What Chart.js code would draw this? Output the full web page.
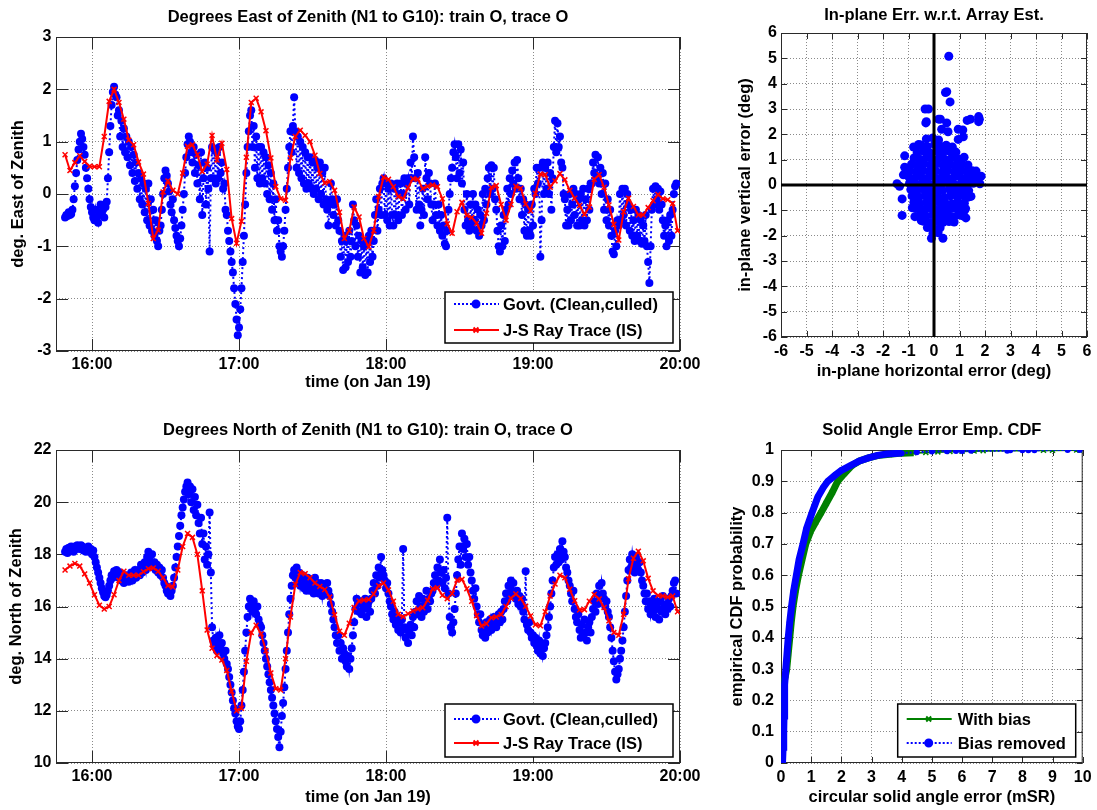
<!DOCTYPE html>
<html>
<head>
<meta charset="utf-8">
<title>Zenith angle: Govt. vs J-S ray trace</title>
<script src="https://cdn.jsdelivr.net/npm/chart.js@4.4.1/dist/chart.umd.min.js"></script>
<style>
    html, body { margin: 0; padding: 0; background: #fff; }
    #fig { position: relative; width: 1097px; height: 810px; overflow: hidden; background: #fff; }
    #fig canvas { position: absolute; }
</style>
</head>
<body>
<div id="fig">
    <canvas id="eastChart" width="710" height="395" style="left:0;top:0"></canvas>
    <canvas id="northChart" width="710" height="410" style="left:0;top:400px"></canvas>
    <canvas id="planeChart" width="397" height="382" style="left:700px;top:0"></canvas>
    <canvas id="cdfChart" width="397" height="410" style="left:700px;top:400px"></canvas>
</div>
<script>
// ---- data (times are minutes after midnight, Jan 19) ----
var hourTicks = [960, 1020, 1080, 1140, 1200];

// Govt. (clean, culled), one sample every 30 s
var govtMinutes = [
    949,949.5,950,950.5,951,951.5,952,952.5,953,953.5,954,954.5,955,955.5,956,956.5,957,957.5,958,958.5,
    959,959.5,960,960.5,961,961.5,962,962.5,963,963.5,964,964.5,965,965.5,966,966.5,967,967.5,968,968.5,
    969,969.5,970,970.5,971,971.5,972,972.5,973,973.5,974,974.5,975,975.5,976,976.5,977,977.5,978,978.5,
    979,979.5,980,980.5,981,981.5,982,982.5,983,983.5,984,984.5,985,985.5,986,986.5,987,987.5,988,988.5,
    989,989.5,990,990.5,991,991.5,992,992.5,993,993.5,994,994.5,995,995.5,996,996.5,997,997.5,998,998.5,
    999,999.5,1000,1000.5,1001,1001.5,1002,1002.5,1003,1003.5,1004,1004.5,1005,1005.5,1006,1006.5,1007,1007.5,1008,1008.5,
    1009,1009.5,1010,1010.5,1011,1011.5,1012,1012.5,1013,1013.5,1014,1014.5,1015,1015.5,1016,1016.5,1017,1017.5,1018,1018.5,
    1019,1019.5,1020,1020.5,1021,1021.5,1022,1022.5,1023,1023.5,1024,1024.5,1025,1025.5,1026,1026.5,1027,1027.5,1028,1028.5,
    1029,1029.5,1030,1030.5,1031,1031.5,1032,1032.5,1033,1033.5,1034,1034.5,1035,1035.5,1036,1036.5,1037,1037.5,1038,1038.5,
    1039,1039.5,1040,1040.5,1041,1041.5,1042,1042.5,1043,1043.5,1044,1044.5,1045,1045.5,1046,1046.5,1047,1047.5,1048,1048.5,
    1049,1049.5,1050,1050.5,1051,1051.5,1052,1052.5,1053,1053.5,1054,1054.5,1055,1055.5,1056,1056.5,1057,1057.5,1058,1058.5,
    1059,1059.5,1060,1060.5,1061,1061.5,1062,1062.5,1063,1063.5,1064,1064.5,1065,1065.5,1066,1066.5,1067,1067.5,1068,1068.5,
    1069,1069.5,1070,1070.5,1071,1071.5,1072,1072.5,1073,1073.5,1074,1074.5,1075,1075.5,1076,1076.5,1077,1077.5,1078,1078.5,
    1079,1079.5,1080,1080.5,1081,1081.5,1082,1082.5,1083,1083.5,1084,1084.5,1085,1085.5,1086,1086.5,1087,1087.5,1088,1088.5,
    1089,1089.5,1090,1090.5,1091,1091.5,1092,1092.5,1093,1093.5,1094,1094.5,1095,1095.5,1096,1096.5,1097,1097.5,1098,1098.5,
    1099,1099.5,1100,1100.5,1101,1101.5,1102,1102.5,1103,1103.5,1104,1104.5,1105,1105.5,1106,1106.5,1107,1107.5,1108,1108.5,
    1109,1109.5,1110,1110.5,1111,1111.5,1112,1112.5,1113,1113.5,1114,1114.5,1115,1115.5,1116,1116.5,1117,1117.5,1118,1118.5,
    1119,1119.5,1120,1120.5,1121,1121.5,1122,1122.5,1123,1123.5,1124,1124.5,1125,1125.5,1126,1126.5,1127,1127.5,1128,1128.5,
    1129,1129.5,1130,1130.5,1131,1131.5,1132,1132.5,1133,1133.5,1134,1134.5,1135,1135.5,1136,1136.5,1137,1137.5,1138,1138.5,
    1139,1139.5,1140,1140.5,1141,1141.5,1142,1142.5,1143,1143.5,1144,1144.5,1145,1145.5,1146,1146.5,1147,1147.5,1148,1148.5,
    1149,1149.5,1150,1150.5,1151,1151.5,1152,1152.5,1153,1153.5,1154,1154.5,1155,1155.5,1156,1156.5,1157,1157.5,1158,1158.5,
    1159,1159.5,1160,1160.5,1161,1161.5,1162,1162.5,1163,1163.5,1164,1164.5,1165,1165.5,1166,1166.5,1167,1167.5,1168,1168.5,
    1169,1169.5,1170,1170.5,1171,1171.5,1172,1172.5,1173,1173.5,1174,1174.5,1175,1175.5,1176,1176.5,1177,1177.5,1178,1178.5,
    1179,1179.5,1180,1180.5,1181,1181.5,1182,1182.5,1183,1183.5,1184,1184.5,1185,1185.5,1186,1186.5,1187,1187.5,1188,1188.5,
    1189,1189.5,1190,1190.5,1191,1191.5,1192,1192.5,1193,1193.5,1194,1194.5,1195,1195.5,1196,1196.5,1197,1197.5,1198,1198.5
];

var govtEastDeg = [
    -0.45,-0.4,-0.42,-0.35,-0.4,-0.38,-0.3,-0.1,0.15,0.4,0.65,0.85,1.0,1.15,1.05,0.9,0.75,0.5,0.3,0.1,
    -0.1,-0.25,-0.35,-0.45,-0.5,-0.3,-0.45,-0.55,-0.35,-0.2,-0.4,-0.3,-0.45,-0.25,-0.15,0.3,0.8,1.3,1.7,1.95,
    2.05,1.9,1.85,1.5,1.6,1.1,1.4,0.9,1.25,0.8,1.1,0.7,1.0,0.55,0.9,0.4,0.75,0.25,0.6,0.1,
    0.4,-0.1,0.3,-0.2,0.2,-0.35,0.1,-0.5,0.2,-0.6,-0.1,-0.7,-0.3,-0.8,-0.5,-0.9,-1.0,-0.7,-0.6,-0.3,
    0.0,0.3,0.45,0.35,0.2,0.05,-0.2,-0.35,-0.1,-0.5,-0.65,-0.8,-0.9,-1.0,-0.85,-0.6,-0.3,0.0,0.4,0.7,
    0.95,1.1,1.0,0.8,0.6,0.9,0.4,0.75,0.2,0.55,-0.1,0.8,-0.4,0.3,0.6,-0.2,0.5,0.1,-1.1,0.3,
    0.9,0.3,0.85,0.2,0.8,0.3,0.9,0.4,0.6,0.1,0.2,-0.3,-0.4,-0.7,-0.9,-1.1,-1.3,-1.5,-1.8,-2.1,
    -2.4,-2.7,-2.55,-2.2,-1.8,-1.3,-0.8,-0.2,0.4,0.9,1.2,1.5,1.6,0.9,1.3,0.5,1.1,0.3,0.9,0.2,
    0.9,0.3,0.8,0.2,0.7,0.0,0.55,-0.1,0.4,-0.3,0.2,-0.5,-0.1,-0.7,-0.5,-1.0,-1.1,-1.2,-1.0,-0.7,
    -0.3,0.1,0.5,0.9,1.2,0.8,1.3,1.85,1.2,0.5,1.1,0.4,1.0,0.3,0.9,0.2,0.8,0.1,0.7,0.2,
    0.7,0.1,0.6,0.0,0.65,0.1,0.5,-0.1,0.6,0.0,0.4,-0.2,0.5,-0.1,-0.3,-0.6,-0.2,0.2,-0.1,-0.4,
    -0.2,-0.6,-0.1,-0.5,-0.7,-1.2,-0.9,-1.45,-0.8,-1.4,-0.9,-1.3,-0.7,-1.2,-0.9,-0.2,-0.5,-1.0,-0.6,-1.2,
    -0.8,-1.5,-0.9,-1.4,-1.0,-1.55,-0.9,-1.5,-0.8,-1.3,-0.7,-1.2,-0.9,-0.4,-0.1,-0.7,-0.3,0.1,-0.4,0.2,
    0.3,-0.4,0.2,-0.5,0.1,-0.6,0.2,-0.4,-0.6,0.1,-0.4,0.2,-0.5,0.0,0.2,-0.4,0.0,0.3,-0.3,0.2,
    0.3,-0.2,0.6,0.3,1.1,0.7,0.3,-0.3,0.4,-0.2,-0.6,-0.3,0.1,-0.4,0.7,0.3,-0.1,0.4,0.2,-0.2,
    -0.5,-0.2,0.2,-0.4,-0.6,-0.2,-0.7,-0.4,-0.8,-0.6,-0.95,-1.0,-0.7,-0.3,0.0,0.3,0.5,0.8,0.95,0.7,
    0.3,0.95,0.4,0.85,0.2,0.6,-0.3,-0.6,0.0,-0.5,-0.7,-0.2,-0.6,0.0,-0.5,-0.2,-0.7,-0.3,-0.8,-0.4,
    -0.6,0.0,-0.5,0.1,-0.2,0.3,0.5,0.0,0.55,0.1,0.5,-0.1,-0.3,-0.7,-1.0,-1.1,-0.6,-1.0,-0.4,-0.9,
    -0.3,0.1,-0.2,0.3,0.0,0.45,0.2,0.6,0.1,0.65,0.3,-0.1,0.1,-0.4,-0.1,-0.7,-0.2,-0.8,-0.3,-0.7,
    -0.8,-0.2,-0.6,0.1,0.0,0.5,0.2,0.5,-1.2,-0.5,0.6,0.0,0.5,0.1,0.6,0.0,0.4,-0.3,0.3,0.9,
    1.4,0.8,1.35,0.9,1.1,0.6,0.5,0.0,-0.1,-0.6,-0.3,-0.6,0.0,-0.5,-0.2,0.1,-0.4,0.0,-0.6,-0.1,
    -0.6,0.0,-0.5,0.1,-0.6,-0.1,-0.5,0.1,-0.3,0.2,0.2,0.6,0.4,0.75,0.3,0.7,0.2,0.5,0.0,0.4,
    -0.3,0.2,-0.5,-0.1,-0.6,-0.3,-0.8,-1.1,-1.15,-0.7,-1.0,-0.5,-0.6,0.0,-0.5,0.1,-0.4,0.1,-0.6,0.0,
    -0.2,-0.7,-0.3,-0.8,-0.5,-0.9,-0.3,-0.8,-0.4,-0.9,-0.5,-0.95,-0.6,-0.9,-0.4,-1.0,-1.3,-1.7,-1.0,-0.3,
    0.1,-0.2,0.15,-0.1,0.1,-0.3,0.05,-0.2,-0.5,-0.8,-0.6,-1.0,-0.5,-0.9,-0.4,-0.8,-0.3,0.0,0.15,0.2
];

var govtNorthDeg = [
    18.1,18.2,18.05,18.25,18.15,18.3,18.2,18.1,18.3,18.2,18.35,18.25,18.2,18.35,18.3,18.15,18.25,18.1,18.2,18.3,
    18.1,18.2,18.0,18.15,17.9,17.7,17.5,17.3,17.1,16.9,16.7,16.55,16.4,16.35,16.45,16.6,16.8,17.0,17.2,17.1,
    17.35,17.2,17.4,17.25,17.1,17.3,17.0,17.2,16.9,17.1,17.2,17.0,16.95,17.15,17.3,17.0,17.2,17.4,17.1,17.3,
    17.4,17.2,17.6,17.3,17.5,17.7,17.4,17.9,18.1,17.8,17.6,18.0,17.5,17.7,17.4,17.6,17.3,17.5,17.2,17.4,
    17.1,16.9,16.8,16.6,16.5,16.7,16.4,16.6,16.8,17.1,17.5,17.9,18.3,18.7,19.1,19.5,19.8,20.1,20.4,20.6,
    20.75,20.3,20.6,20.0,20.5,19.7,20.2,19.5,19.9,19.2,18.8,19.4,18.4,18.8,17.8,18.3,17.6,18.0,19.6,17.3,
    15.2,14.7,14.5,14.8,14.3,14.6,14.9,14.4,14.6,14.2,14.0,14.3,13.8,13.6,13.3,13.0,12.7,12.4,12.1,11.9,
    11.6,11.4,11.3,11.6,12.2,12.8,13.5,14.3,15.0,15.6,16.0,16.3,16.1,15.8,16.2,15.9,15.7,16.0,15.5,15.3,
    15.2,14.9,14.6,14.3,14.0,13.7,13.4,13.1,12.8,12.5,12.2,11.9,11.6,11.3,11.0,10.6,11.2,11.8,12.3,12.9,
    13.6,14.3,15.0,15.7,16.3,16.8,17.2,17.4,17.1,17.5,16.9,17.3,16.8,17.1,17.2,16.7,16.9,16.6,17.1,16.8,
    16.6,17.0,16.8,16.5,17.1,16.7,16.9,16.5,16.6,16.9,16.4,16.8,16.7,16.5,16.9,16.6,16.4,16.1,15.8,15.5,
    15.2,14.9,14.6,14.9,14.3,14.6,14.0,14.4,14.2,13.9,13.7,14.1,13.6,14.0,14.4,14.9,15.4,15.9,16.3,16.1,
    15.8,16.2,15.7,16.1,15.9,16.3,15.6,16.0,16.2,15.8,16.3,16.6,16.9,16.5,17.2,16.8,17.5,17.1,17.9,17.4,
    17.2,17.0,16.7,16.9,16.5,16.2,16.0,15.7,15.5,15.8,15.3,15.6,15.1,15.4,15.0,15.5,18.2,15.2,14.8,15.1,
    14.6,15.0,15.3,14.9,15.6,15.2,15.8,16.2,15.7,16.4,16.0,15.6,16.3,15.8,16.1,16.6,15.9,16.3,16.2,16.5,
    16.6,16.9,17.2,16.8,17.5,17.0,17.8,17.3,16.9,17.4,16.7,17.1,19.4,16.5,15.6,15.2,15.0,15.4,15.9,16.5,
    17.2,17.8,18.3,17.6,18.8,18.2,18.6,17.9,18.4,17.6,17.9,17.3,17.0,16.6,16.3,16.7,16.0,15.7,15.4,15.7,
    15.1,14.9,15.2,14.8,15.4,15.0,15.2,15.5,15.1,15.4,15.6,15.3,15.2,15.5,15.7,15.4,15.8,15.5,15.9,16.2,
    16.5,16.2,16.8,16.4,17.0,16.6,16.9,16.5,16.3,16.6,16.1,16.4,16.0,16.3,15.8,15.5,17.35,15.3,15.1,15.4,
    15.0,14.8,14.9,14.6,14.8,14.5,14.3,14.7,14.2,14.5,14.1,14.4,14.6,14.9,15.2,15.6,16.0,16.5,17.0,17.5,
    17.9,17.6,18.0,17.7,18.2,17.8,18.5,18.1,17.9,17.5,17.3,17.0,16.8,16.5,16.2,16.6,15.9,15.6,15.4,15.7,
    15.1,14.8,15.3,14.9,15.5,15.0,14.7,15.2,15.4,15.0,15.6,15.9,16.2,15.8,16.5,16.1,16.8,16.4,16.9,16.5,
    16.3,16.0,16.2,15.8,15.6,15.2,14.8,14.3,13.9,13.5,13.2,13.4,13.6,14.0,14.3,14.7,15.2,15.8,16.4,17.0,
    17.4,17.8,17.5,18.0,17.6,17.3,17.9,17.5,17.4,17.7,17.3,17.0,16.8,16.5,16.2,16.5,15.9,16.2,15.7,16.0,
    15.8,16.3,15.6,16.1,15.9,15.5,16.2,15.8,16.4,16.0,15.7,16.1,15.9,16.3,16.0,16.4,16.6,16.9,17.0,16.5
];

// J-S ray trace (IS), every two minutes
var traceMinutes = [
    949,951,953,955,957,959,961,963,965,967,
    969,971,973,975,977,979,981,983,985,987,
    989,991,993,995,997,999,1001,1003,1005,1007,
    1009,1011,1013,1015,1017,1019,1021,1023,1025,1027,
    1029,1031,1033,1035,1037,1039,1041,1043,1045,1047,
    1049,1051,1053,1055,1057,1059,1061,1063,1065,1067,
    1069,1071,1073,1075,1077,1079,1081,1083,1085,1087,
    1089,1091,1093,1095,1097,1099,1101,1103,1105,1107,
    1109,1111,1113,1115,1117,1119,1121,1123,1125,1127,
    1129,1131,1133,1135,1137,1139,1141,1143,1145,1147,
    1149,1151,1153,1155,1157,1159,1161,1163,1165,1167,
    1169,1171,1173,1175,1177,1179,1181,1183,1185,1187,
    1189,1191,1193,1195,1197,1199
];

var traceEastDeg = [
    0.75,0.45,0.6,0.73,0.62,0.53,0.52,0.52,1.1,1.77,
    2.0,1.75,1.43,1.03,0.94,0.61,0.38,-0.18,-0.85,-0.69,
    0.04,0.25,0.07,0.0,0.4,0.91,0.94,0.75,0.43,0.57,
    1.12,0.65,0.97,0.47,-0.47,-0.94,-0.52,0.7,1.75,1.83,
    1.57,1.21,0.69,0.14,-0.09,-0.12,0.69,1.1,1.22,1.12,
    1.0,0.74,0.39,0.21,0.24,0.07,-0.35,-0.85,-0.7,-0.25,
    -0.44,-0.85,-1.01,-0.7,-0.05,0.32,0.28,0.14,-0.05,-0.09,
    0.12,0.29,0.28,0.1,0.15,0.17,0.14,-0.09,-0.57,-0.75,
    -0.34,-0.16,-0.41,-0.45,-0.56,-0.75,-0.37,0.13,0.16,-0.2,
    -0.5,-0.2,0.15,0.11,-0.19,-0.32,0.01,0.38,0.37,0.13,
    0.25,0.39,0.27,0.07,-0.08,-0.22,-0.39,-0.25,0.28,0.37,
    0.13,-0.21,-0.58,-0.88,-0.34,-0.08,-0.24,-0.4,-0.4,-0.26,
    -0.13,-0.01,-0.09,-0.11,-0.18,-0.7
];

var traceNorthDeg = [
    17.4,17.55,17.65,17.55,17.25,16.9,16.45,16.05,15.9,16.0,
    16.45,17.0,17.35,17.2,17.2,17.2,17.33,17.45,17.48,17.35,
    17.1,16.8,16.75,17.4,18.3,18.8,18.65,18.0,16.6,15.1,
    14.4,14.12,13.95,13.55,12.75,12.0,12.1,13.9,15.0,15.28,
    14.95,14.3,13.45,12.85,12.8,14.0,15.6,16.85,17.3,17.26,
    17.1,16.9,16.77,16.65,16.36,15.68,15.05,14.9,15.36,15.96,
    16.21,16.25,16.27,16.48,16.8,16.9,16.63,16.2,15.7,15.61,
    15.72,15.83,15.9,15.95,16.24,16.68,16.72,16.43,16.3,16.5,
    17.01,17.04,16.68,16.2,15.65,15.25,15.34,15.57,15.6,15.69,
    16.0,16.32,16.48,16.31,16.01,15.64,15.3,15.26,15.8,16.4,
    16.86,17.2,17.1,16.66,16.22,15.87,15.88,16.2,16.46,16.29,
    15.96,15.45,15.0,14.9,15.7,17.06,17.85,18.12,17.75,17.08,
    16.6,16.42,16.4,16.36,16.4,15.8
];

// in-plane error w.r.t. array estimate (deg)
var inPlaneHorizErr = [
    -0.30,-0.05,0.18,
    -0.52,-0.27,0.02,0.24,0.48,0.72,
    -0.66,-0.40,-0.16,0.12,0.36,0.58,0.86,
    -0.78,-0.56,-0.30,-0.06,0.20,0.44,0.70,0.94,1.18,
    -0.88,-0.64,-0.41,-0.14,0.10,0.36,0.61,0.84,1.10,1.33,
    -0.94,-0.70,-0.44,-0.20,0.06,0.31,0.54,0.80,1.06,1.29,1.50,
    -0.98,-0.76,-0.50,-0.24,0.01,0.26,0.49,0.76,1.01,1.24,1.48,1.68,
    -0.96,-0.69,-0.46,-0.19,0.04,0.31,0.56,0.79,1.06,1.30,1.54,
    -0.91,-0.66,-0.39,-0.16,0.11,0.34,0.61,0.86,1.09,1.36,
    -0.86,-0.59,-0.36,-0.09,0.14,0.41,0.64,0.91,1.14,1.34,
    -0.79,-0.56,-0.29,-0.04,0.21,0.44,0.71,0.94,1.19,
    -0.71,-0.44,-0.21,0.06,0.29,0.56,0.79,1.04,1.24,
    -0.54,-0.31,-0.04,0.19,0.46,0.69,0.94,1.10,
    -0.41,-0.14,0.09,0.36,0.59,0.79,
    -0.26,0.01,0.24,
    -0.04,0.16,
    0.58,0.45,0.50,0.63,-0.35,-0.22,-0.32,-0.30,0.18,0.25,0.50,
    0.30,0.55,0.95,1.13,1.43,1.30,1.75,1.78,1.75,1.15,0.95,
    -0.80,-0.60,-1.15,-1.15,-1.20,-1.45,-1.35,-1.25,-1.25,-0.85,-0.75,
    -0.50,-0.10,0.35,1.45,1.80,1.85,1.55,1.65,1.25,1.20
];
var inPlaneVertErr = [
    1.82,1.86,1.78,
    1.58,1.52,1.60,1.54,1.57,1.50,
    1.28,1.34,1.27,1.33,1.29,1.35,1.30,
    1.07,1.02,1.08,1.03,1.06,1.01,1.08,1.04,1.10,
    0.82,0.78,0.83,0.79,0.84,0.77,0.81,0.78,0.83,0.79,
    0.57,0.52,0.58,0.53,0.56,0.51,0.57,0.54,0.58,0.52,0.56,
    0.31,0.27,0.33,0.28,0.32,0.27,0.31,0.29,0.33,0.27,0.31,0.28,
    0.07,0.03,0.08,0.02,0.06,0.04,0.08,0.02,0.06,0.03,0.07,
    -0.18,-0.22,-0.17,-0.23,-0.19,-0.21,-0.17,-0.23,-0.18,-0.22,
    -0.43,-0.48,-0.42,-0.47,-0.44,-0.49,-0.43,-0.46,-0.42,-0.48,
    -0.68,-0.73,-0.69,-0.72,-0.67,-0.71,-0.74,-0.68,-0.72,
    -0.93,-0.97,-0.92,-0.98,-0.94,-0.96,-0.91,-0.97,-0.93,
    -1.18,-1.23,-1.17,-1.22,-1.19,-1.24,-1.18,-1.21,
    -1.43,-1.48,-1.42,-1.47,-1.44,-1.46,
    -1.68,-1.73,-1.69,
    -1.91,-1.88,
    5.08,3.65,3.68,3.28,3.00,3.00,2.45,2.50,2.60,2.60,2.45,
    2.20,2.10,2.20,2.17,2.60,2.55,2.70,2.60,2.50,1.90,1.80,
    1.50,1.60,1.15,0.70,0.40,0.05,-0.05,-0.55,-1.20,-0.90,-1.25,
    -1.40,-2.10,-2.10,-0.45,0.05,0.35,0.50,0.55,-1.30,-1.00
];

// empirical CDF of circular solid angle error (mSR)
var withBiasErr = [0.00,0.01,0.02,0.03,0.05,0.08,0.15,0.19,0.24,0.29,0.34,0.40,0.48,0.58,0.70,0.82,0.98,1.15,1.33,1.50,
    1.70,1.88,2.10,2.35,2.60,2.90,3.20,3.60,4.00,4.40,4.80,5.20,5.60,6.00,6.40,6.70,8.70,9.00,9.80,9.90];
var withBiasProb = [0.00,0.05,0.10,0.15,0.20,0.25,0.28,0.30,0.35,0.40,0.45,0.50,0.55,0.60,0.65,0.70,0.74,0.77,0.80,0.83,
    0.865,0.90,0.925,0.95,0.965,0.975,0.982,0.986,0.990,0.991,0.992,0.994,0.995,0.996,0.997,0.998,0.999,0.999,1.000,1.000];
var biasRemovedErr = [0.05,0.07,0.09,0.10,0.11,0.13,0.16,0.20,0.24,0.29,0.35,0.42,0.51,0.60,0.73,0.85,1.03,1.22,1.40,1.55,
    1.80,2.00,2.30,2.60,2.90,3.20,3.50,4.00,4.50,5.00,5.50,5.80,6.00,6.30,7.50,7.60,8.00,8.20,8.40,9.50,9.90];
var biasRemovedProb = [0.00,0.05,0.10,0.15,0.20,0.25,0.30,0.35,0.40,0.45,0.50,0.55,0.60,0.65,0.70,0.75,0.80,0.85,0.88,0.90,
    0.92,0.935,0.95,0.965,0.975,0.983,0.987,0.990,0.993,0.995,0.996,0.997,0.997,0.998,0.998,0.999,0.999,0.999,0.999,1.000,1.000];

var degTicks6 = [-6,-5,-4,-3,-2,-1,0,1,2,3,4,5,6];
var probTicks = [0,0.1,0.2,0.3,0.4,0.5,0.6,0.7,0.8,0.9,1];
var errTicks = [0,1,2,3,4,5,6,7,8,9,10];

// ---- helpers ----
var FONT = "'Liberation Sans', Arial, Helvetica, sans-serif";
var TEXT_SIZE = 16.5;
var BLUE = '#0000ff', RED = '#ff0000', GREEN = '#008000';
Chart.defaults.font.family = FONT;
Chart.defaults.color = '#000';

function pairs(xs, ys) {
    return xs.map(function(x, i) { return { x: x, y: ys[i] }; });
}

function clock(v) {
    var h = Math.floor(v / 60), m = Math.round(v % 60);
    return h + ':' + (m < 10 ? '0' : '') + m;
}

function axis(o) {
    return {
        type: 'linear',
        min: o.min,
        max: o.max,
        afterBuildTicks: function(s) { s.ticks = o.ticks.map(function(v) { return { value: v }; }); },
        afterFit: function(s) { if (s.isHorizontal()) { s.height = o.size; } else { s.width = o.size; } },
        grid: { color: '#8a8a8a', lineWidth: 1, drawTicks: false },
        border: { display: false, dash: [1, 2] },
        ticks: {
            autoSkip: false, maxRotation: 0, padding: o.tickPad, color: '#000',
            font: { size: 16, weight: 'bold' },
            callback: o.format || function(v) { return String(v); }
        },
        title: {
            display: true, text: o.title, color: '#000',
            font: { size: TEXT_SIZE, weight: 'bold' },
            padding: o.horizontal ? { top: 0, bottom: o.titlePad } : { top: o.titlePad, bottom: 0 }
        }
    };
}

// box round the plot area with inward tick marks on all four sides
var axesBox = {
    id: 'axesBox',
    beforeDatasetsDraw: function(chart, args, opts) {
        var a = chart.chartArea, ctx = chart.ctx, len = opts.tickLength;
        var xs = chart.scales.x, ys = chart.scales.y;
        ctx.save();
        ctx.strokeStyle = '#2a2a2a';
        ctx.lineWidth = 1;
        ctx.strokeRect(a.left + 0.5, a.top + 0.5, a.right - a.left - 1, a.bottom - a.top - 1);
        ctx.beginPath();
        xs.ticks.forEach(function(t) {
            var px = Math.round(xs.getPixelForValue(t.value)) + 0.5;
            ctx.moveTo(px, a.bottom); ctx.lineTo(px, a.bottom - len);
            ctx.moveTo(px, a.top); ctx.lineTo(px, a.top + len);
        });
        ys.ticks.forEach(function(t) {
            var py = Math.round(ys.getPixelForValue(t.value)) + 0.5;
            ctx.moveTo(a.left, py); ctx.lineTo(a.left + len, py);
            ctx.moveTo(a.right, py); ctx.lineTo(a.right - len, py);
        });
        ctx.stroke();
        ctx.restore();
    }
};

var subplotTitle = {
    id: 'subplotTitle',
    afterDraw: function(chart, args, opts) {
        var a = chart.chartArea, ctx = chart.ctx;
        ctx.save();
        ctx.font = 'bold ' + TEXT_SIZE + 'px ' + FONT;
        ctx.fillStyle = '#000';
        ctx.textAlign = 'center';
        ctx.textBaseline = 'middle';
        ctx.fillText(opts.text, (a.left + a.right) / 2, a.top - opts.gap);
        ctx.restore();
    }
};

// thick black lines through the origin (scatter panel only)
var originLines = {
    id: 'originLines',
    afterDatasetsDraw: function(chart, args, opts) {
        if (!opts.show) return;
        var a = chart.chartArea, ctx = chart.ctx;
        var x0 = chart.scales.x.getPixelForValue(0), y0 = chart.scales.y.getPixelForValue(0);
        ctx.save();
        ctx.strokeStyle = '#000';
        ctx.lineWidth = 3;
        ctx.beginPath();
        ctx.moveTo(x0, a.top); ctx.lineTo(x0, a.bottom);
        ctx.moveTo(a.left, y0); ctx.lineTo(a.right, y0);
        ctx.stroke();
        ctx.restore();
    }
};

// MATLAB-like legend box inside the lower right corner
var insetLegend = {
    id: 'insetLegend',
    afterDraw: function(chart, args, opts) {
        if (!opts.show) return;
        var a = chart.chartArea, ctx = chart.ctx;
        var x = a.right - opts.right - opts.width, y = a.bottom - opts.bottom - opts.height;
        ctx.save();
        ctx.fillStyle = '#fff';
        ctx.fillRect(x, y, opts.width, opts.height);
        ctx.strokeStyle = '#000';
        ctx.lineWidth = 1.5;
        ctx.strokeRect(x, y, opts.width, opts.height);
        chart.data.datasets.forEach(function(ds, i) {
            var cy = y + opts.rows[i];
            ctx.strokeStyle = ds.borderColor;
            ctx.fillStyle = ds.borderColor;
            ctx.lineWidth = 2;
            ctx.setLineDash(ds.legendDash || []);
            ctx.beginPath();
            ctx.moveTo(x + 9, cy); ctx.lineTo(x + 54, cy);
            ctx.stroke();
            ctx.setLineDash([]);
            Chart.helpers.drawPoint(ctx, { pointStyle: ds.pointStyle, radius: 3.5, borderWidth: 1.5, rotation: 0 }, x + 31, cy);
            ctx.fillStyle = '#000';
            ctx.font = 'bold ' + TEXT_SIZE + 'px ' + FONT;
            ctx.textAlign = 'left';
            ctx.textBaseline = 'middle';
            ctx.fillText(ds.label, x + opts.textX, cy + 1);
        });
        ctx.restore();
    }
};

var basePlugins = [axesBox, subplotTitle, originLines, insetLegend];

function baseOptions(o) {
    return {
        responsive: false,
        animation: false,
        events: [],
        layout: { padding: o.padding },
        scales: { x: o.x, y: o.y },
        plugins: {
            legend: { display: false },
            tooltip: { enabled: false },
            axesBox: { tickLength: o.tickLength },
            subplotTitle: { text: o.title, gap: o.titleGap },
            originLines: { show: !!o.origin },
            insetLegend: o.legend || { show: false }
        }
    };
}

function timeSeries(canvasId, govt, trace, o) {
    new Chart(document.getElementById(canvasId).getContext('2d'), {
        type: 'scatter',
        data: {
            datasets: [{
                label: 'Govt. (Clean,culled)',
                data: pairs(govtMinutes, govt),
                showLine: true,
                borderColor: BLUE, backgroundColor: BLUE,
                borderWidth: 2, borderDash: [2, 3], legendDash: [2, 2],
                pointStyle: 'circle', pointRadius: 4, pointBorderWidth: 0,
                order: 2
            }, {
                label: 'J-S Ray Trace (IS)',
                data: pairs(traceMinutes, trace),
                showLine: true,
                borderColor: RED, backgroundColor: RED,
                borderWidth: 2,
                pointStyle: 'crossRot', pointRadius: 3.5, pointBorderWidth: 1.5,
                order: 1
            }]
        },
        options: baseOptions(o),
        plugins: basePlugins
    });
}

document.addEventListener('DOMContentLoaded', function() {
    timeSeries('eastChart', govtEastDeg, traceEastDeg, {
        padding: { top: 37, right: 30, left: 0, bottom: 0 },
        title: 'Degrees East of Zenith (N1 to G10): train O, trace O', titleGap: 20,
        tickLength: 12,
        x: axis({ min: 945.3, max: 1200, ticks: hourTicks, format: clock, size: 44, tickPad: 4.4,
                  title: 'time (on Jan 19)', titlePad: 2.4, horizontal: true }),
        y: axis({ min: -3, max: 3, ticks: [-3,-2,-1,0,1,2,3], size: 56, tickPad: 4.5,
                  title: 'deg. East of Zenith', titlePad: 8.4 }),
        legend: { show: true, right: 7, bottom: 8, width: 228, height: 51, rows: [12, 38], textX: 58 }
    });

    timeSeries('northChart', govtNorthDeg, traceNorthDeg, {
        padding: { top: 50, right: 30, left: 0, bottom: 0 },
        title: 'Degrees North of Zenith (N1 to G10): train O, trace O', titleGap: 19.3,
        tickLength: 12,
        x: axis({ min: 945.3, max: 1200, ticks: hourTicks, format: clock, size: 47, tickPad: 4.4,
                  title: 'time (on Jan 19)', titlePad: 2.4, horizontal: true }),
        y: axis({ min: 10, max: 22, ticks: [10,12,14,16,18,20,22], size: 56, tickPad: 4.5,
                  title: 'deg. North of Zenith', titlePad: 6.4 }),
        legend: { show: true, right: 7, bottom: 6, width: 228, height: 53, rows: [15, 39], textX: 58 }
    });

    new Chart(document.getElementById('planeChart').getContext('2d'), {
        type: 'scatter',
        data: {
            datasets: [{
                label: 'in-plane error',
                data: pairs(inPlaneHorizErr, inPlaneVertErr),
                borderColor: BLUE, backgroundColor: BLUE,
                pointStyle: 'circle', pointRadius: 4.5, pointBorderWidth: 0
            }]
        },
        options: baseOptions({
            padding: { top: 33, right: 10, left: 0, bottom: 0 },
            title: 'In-plane Err. w.r.t. Array Est.', titleGap: 18,
            tickLength: 6, origin: true,
            x: axis({ min: -6, max: 6, ticks: degTicks6, size: 45, tickPad: 5.4,
                      title: 'in-plane horizontal error (deg)', titlePad: 0.4, horizontal: true }),
            y: axis({ min: -6, max: 6, ticks: degTicks6, size: 81, tickPad: 4,
                      title: 'in-plane vertical error (deg)', titlePad: 35.4 })
        }),
        plugins: basePlugins
    });

    new Chart(document.getElementById('cdfChart').getContext('2d'), {
        type: 'scatter',
        data: {
            datasets: [{
                label: 'With bias',
                data: pairs(withBiasErr, withBiasProb),
                showLine: true,
                borderColor: GREEN, backgroundColor: GREEN,
                borderWidth: 2,
                segment: { borderWidth: function(c) { return c.p1.parsed.x < 4.5 ? 7 : 2; } },
                pointStyle: 'crossRot', pointRadius: 3.5, pointBorderWidth: 1.5,
                order: 2
            }, {
                label: 'Bias removed',
                data: pairs(biasRemovedErr, biasRemovedProb),
                showLine: true,
                borderColor: BLUE, backgroundColor: BLUE,
                borderWidth: 2, legendDash: [2, 2],
                segment: {
                    borderWidth: function(c) { return c.p1.parsed.x < 4.5 ? 7 : 2; },
                    borderDash: function(c) { return c.p1.parsed.x < 4.5 ? [] : [2, 2]; }
                },
                pointStyle: 'circle', pointRadius: 3, pointBorderWidth: 0,
                order: 1
            }]
        },
        options: baseOptions({
            padding: { top: 50, right: 10, left: 0, bottom: 0 },
            title: 'Solid Angle Error Emp. CDF', titleGap: 19.3,
            tickLength: 6,
            x: axis({ min: 0, max: 10, ticks: errTicks, size: 47, tickPad: 5.4,
                      title: 'circular solid angle error (mSR)', titlePad: 2.4, horizontal: true }),
            y: axis({ min: 0, max: 1, ticks: probTicks, size: 81, tickPad: 7,
                      title: 'empirical CDF probability', titlePad: 27.4 }),
            legend: { show: true, right: 7, bottom: 6, width: 178, height: 53, rows: [15, 39], textX: 60 }
        }),
        plugins: basePlugins
    });
});
</script>
</body>
</html>
